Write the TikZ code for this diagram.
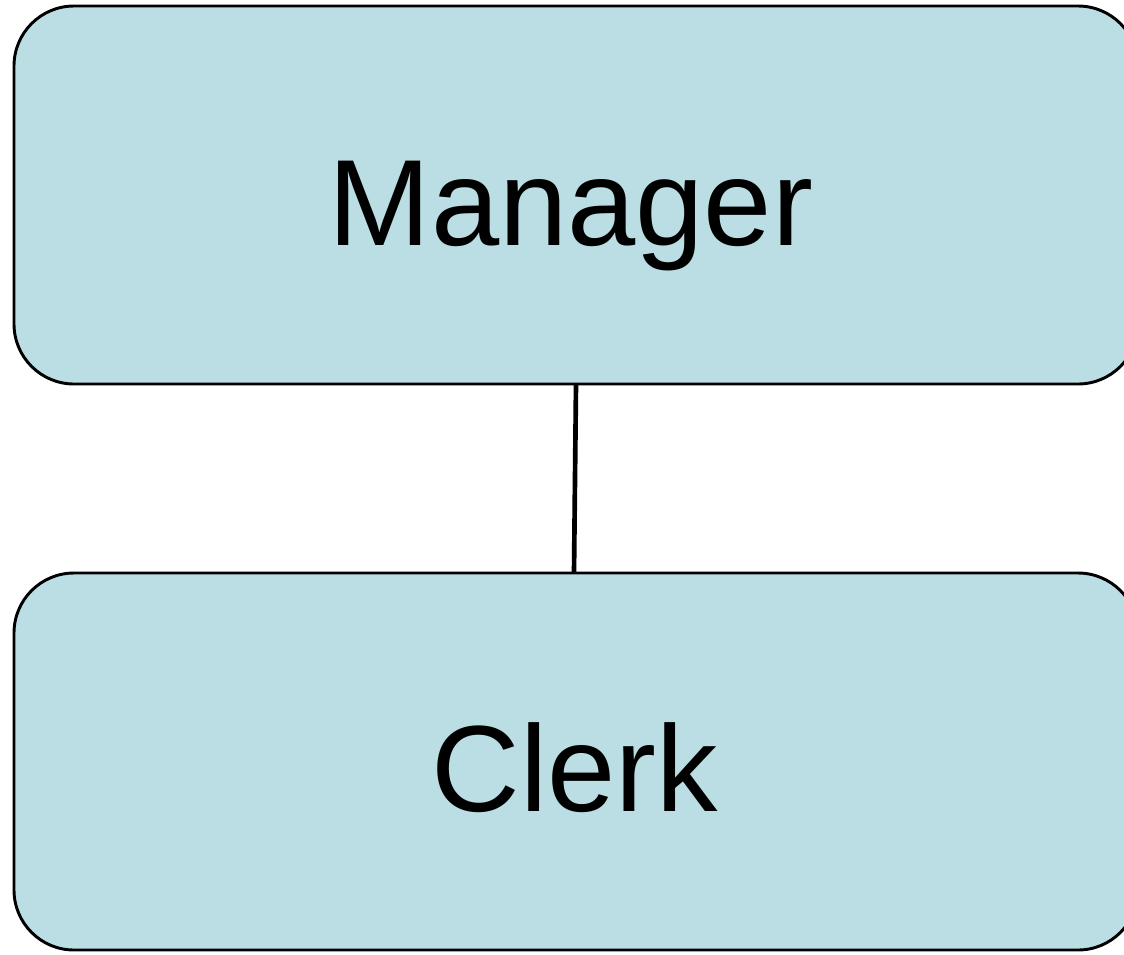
\documentclass[tikz,border=0pt]{standalone}
\usepackage{fontspec}
\setmainfont{Liberation Sans}
\definecolor{boxfill}{RGB}{187,222,228}
\begin{document}
\begin{tikzpicture}[x=0.75pt,y=-0.75pt,
  orgbox/.style={draw=black, line width=2.2pt, fill=boxfill, rounded corners=45pt},
  lbl/.style={font=\fontsize{92}{110}\selectfont, anchor=base, inner sep=0pt}]
\useasboundingbox (0,0) rectangle (1124,954);
\clip (0,0) rectangle (1124,954);
\fill[white] (0,0) rectangle (1124,954);
\draw[orgbox] (14,6) rectangle (1138,384);
\draw[orgbox] (14,573) rectangle (1138,950);
\coordinate (mtop) at (576,384);
\coordinate (cbot) at (574,573);
\node[lbl] (manager) at (571,245) {Manager};
\node[lbl] (clerk) at (575,811) {Clerk};
\draw[line width=3.5pt] (mtop) -- (cbot);
\end{tikzpicture}
\end{document}
